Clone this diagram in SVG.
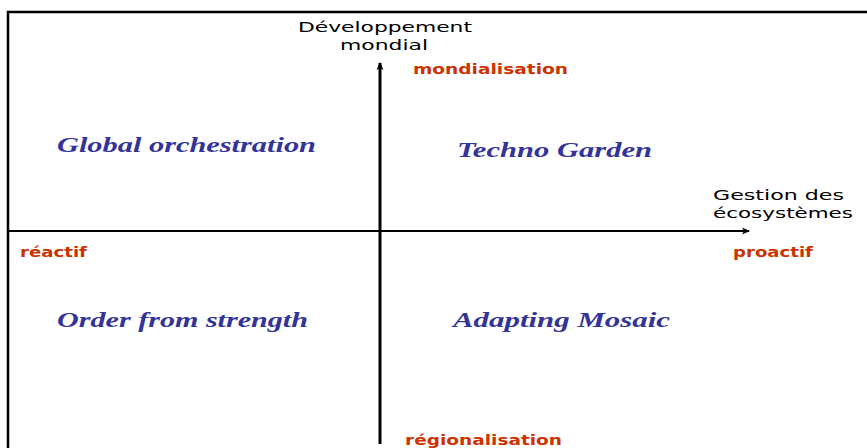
<svg xmlns="http://www.w3.org/2000/svg" width="867" height="448" viewBox="0 0 867 448">
<style>
.frame{stroke:#000;stroke-width:2.5;fill:none}
.axis{stroke:#000;fill:none}
.ax-title{font-family:"DejaVu Sans",sans-serif;font-size:14.5px;fill:#000}
.pole{font-family:"DejaVu Sans",sans-serif;font-weight:bold;font-size:14.5px;fill:#cc3300}
.scen{font-family:"Liberation Serif",serif;font-weight:bold;font-style:italic;font-size:21px;fill:#333399}
</style>
<defs>
<marker id="arr" markerWidth="8" markerHeight="8" refX="7" refY="4" orient="auto" markerUnits="userSpaceOnUse">
<path d="M0,0.5 L8,4 L0,7.5 L2,4 Z" fill="#000"/>
</marker>
</defs>
<rect width="867" height="448" fill="#fff"/>
<g id="frame">
<path class="frame" d="M8,448 L8,12 L867,12"/>
</g>
<g id="connectors">
<line class="axis" x1="8" y1="231" x2="749" y2="231" stroke-width="2" marker-end="url(#arr)"/>
<line class="axis" x1="380" y1="444" x2="380" y2="63" stroke-width="3" marker-end="url(#arr)"/>
</g>
<g id="axis-y-title">
<text class="ax-title" x="298" y="32" textLength="174" lengthAdjust="spacingAndGlyphs">Développement</text>
<text class="ax-title" x="340" y="50" textLength="88" lengthAdjust="spacingAndGlyphs">mondial</text>
</g>
<g id="axis-x-title">
<text class="ax-title" x="713" y="200" textLength="131" lengthAdjust="spacingAndGlyphs">Gestion des</text>
<text class="ax-title" x="713" y="218" textLength="140" lengthAdjust="spacingAndGlyphs">écosystèmes</text>
</g>
<g id="pole-mondialisation"><text class="pole" x="413" y="74" textLength="155" lengthAdjust="spacingAndGlyphs">mondialisation</text></g>
<g id="pole-regionalisation"><text class="pole" x="405" y="445" textLength="157" lengthAdjust="spacingAndGlyphs">régionalisation</text></g>
<g id="pole-reactif"><text class="pole" x="20" y="257" textLength="67" lengthAdjust="spacingAndGlyphs">réactif</text></g>
<g id="pole-proactif"><text class="pole" x="733" y="257" textLength="80" lengthAdjust="spacingAndGlyphs">proactif</text></g>
<g id="global-orchestration"><text class="scen" x="57" y="152" textLength="259" lengthAdjust="spacingAndGlyphs">Global orchestration</text></g>
<g id="techno-garden"><text class="scen" x="457" y="157" textLength="195" lengthAdjust="spacingAndGlyphs">Techno Garden</text></g>
<g id="order-from-strength"><text class="scen" x="57" y="327" textLength="251" lengthAdjust="spacingAndGlyphs">Order from strength</text></g>
<g id="adapting-mosaic"><text class="scen" x="453" y="327" textLength="217" lengthAdjust="spacingAndGlyphs">Adapting Mosaic</text></g>
</svg>
